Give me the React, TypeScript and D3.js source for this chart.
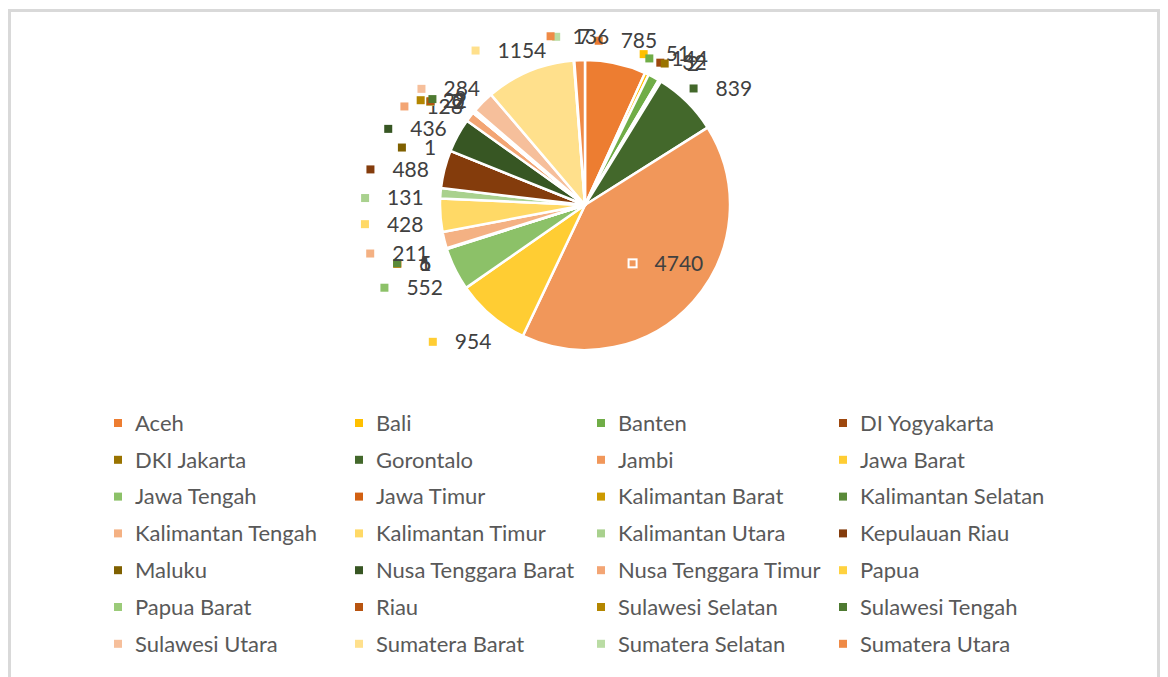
import React from 'react';
import * as d3 from 'd3';

const categories = [
  'Aceh', 'Bali', 'Banten', 'DI Yogyakarta',
  'DKI Jakarta', 'Gorontalo', 'Jambi', 'Jawa Barat',
  'Jawa Tengah', 'Jawa Timur', 'Kalimantan Barat', 'Kalimantan Selatan',
  'Kalimantan Tengah', 'Kalimantan Timur', 'Kalimantan Utara', 'Kepulauan Riau',
  'Maluku', 'Nusa Tenggara Barat', 'Nusa Tenggara Timur', 'Papua',
  'Papua Barat', 'Riau', 'Sulawesi Selatan', 'Sulawesi Tengah',
  'Sulawesi Utara', 'Sumatera Barat', 'Sumatera Selatan', 'Sumatera Utara',
];

const values = [
  785, 51, 144, 32,
  2, 839, 4740, 954,
  552, 5, 1, 6,
  211, 428, 131, 488,
  1, 436, 128, 0,
  2, 7, 22, 9,
  284, 1154, 7, 136,
];

const colors = [
  '#ED7D31', '#FFC000', '#70AD47', '#9E480E',
  '#997300', '#43682B', '#F1975A', '#FFCD33',
  '#8CC168', '#D26012', '#CC9A00', '#5A8A39',
  '#F4B183', '#FFD966', '#A9D18E', '#843C0C',
  '#7F6000', '#375623', '#F3A574', '#FFD23F',
  '#9BCB79', '#B85410', '#B38600', '#4E7A31',
  '#F6BF9B', '#FFE08C', '#BADCA4', '#EF8A46',
];

const FONT = 'Lato, "Open Sans", sans-serif';

export default function App() {
  const W = 1168;
  const H = 677;
  const cx = 585;
  const cy = 205;
  const R = 145;
  const fs = 21;
  const legFs = 22;

  const pie = d3.pie<number>().sort(null).value((d) => d);
  const arcs = pie(values);
  const arc = d3.arc<d3.PieArcDatum<number>>().innerRadius(0).outerRadius(R);

  const labels = arcs.map((d, i) => {
    const th = (d.startAngle + d.endAngle) / 2;
    const s = Math.sin(th);
    const c = Math.cos(th);
    const txt = String(values[i]);
    const tw = txt.length * 0.58 * fs;
    const w = 4 + 22 + tw;
    const h = 20;
    let bx: number;
    let by: number;
    const inside = values[i] > 2000;
    if (inside) {
      const rr = R * 0.7;
      bx = cx + rr * s + 5;
      by = cy - rr * c - 9;
    } else {
      const R1 = 162;
      const ax = cx + R1 * s;
      const ay = cy - R1 * c;
      bx = ax + (s * w) / 2;
      by = ay - (c * h) / 2 + 3 + 4 * Math.abs(s);
    }
    const mx = bx - w / 2 + 4;
    return { mx, my: by, tx: mx + 22, ty: by, txt, inside, color: colors[i] };
  });

  const legX = [118, 359, 601, 843];
  const legY0 = 423;
  const legDy = 36.8;

  return (
    <svg
      width={W}
      height={H}
      style={{ position: 'absolute', left: 0, top: 0, background: '#fff' }}
      fontFamily={FONT}
    >
      <rect x={0} y={0} width={W} height={H} fill="#fff" />
      <rect x={9.5} y={10.5} width={1149} height={720} fill="#fff" stroke="#D9D9D9" strokeWidth={3} />
      <g transform={`translate(${cx},${cy})`}>
        {arcs.map((d, i) => (
          <path key={categories[i]} d={arc(d) || ''} fill={colors[i]} stroke="#fff" strokeWidth={2.5} strokeLinejoin="round" />
        ))}
      </g>
      <g>
        {labels.map((l, i) => (
          <g key={'lab' + categories[i]}>
            <rect
              x={l.mx - 4}
              y={l.my - 4}
              width={8}
              height={8}
              fill={l.color}
              stroke={l.inside ? '#fff' : 'none'}
              strokeWidth={l.inside ? 2 : 0}
            />
            <text x={l.tx} y={l.ty} dy="0.35em" fontSize={fs} fill="#404040">
              {l.txt}
            </text>
          </g>
        ))}
      </g>
      <g>
        {categories.map((name, i) => {
          const col = i % 4;
          const row = Math.floor(i / 4);
          const x = legX[col];
          const y = legY0 + row * legDy;
          return (
            <g key={'leg' + name}>
              <rect x={x - 4} y={y - 4} width={8} height={8} fill={colors[i]} />
              <text x={x + 17} y={y} dy="0.35em" fontSize={legFs} fill="#595959">
                {name}
              </text>
            </g>
          );
        })}
      </g>
    </svg>
  );
}
